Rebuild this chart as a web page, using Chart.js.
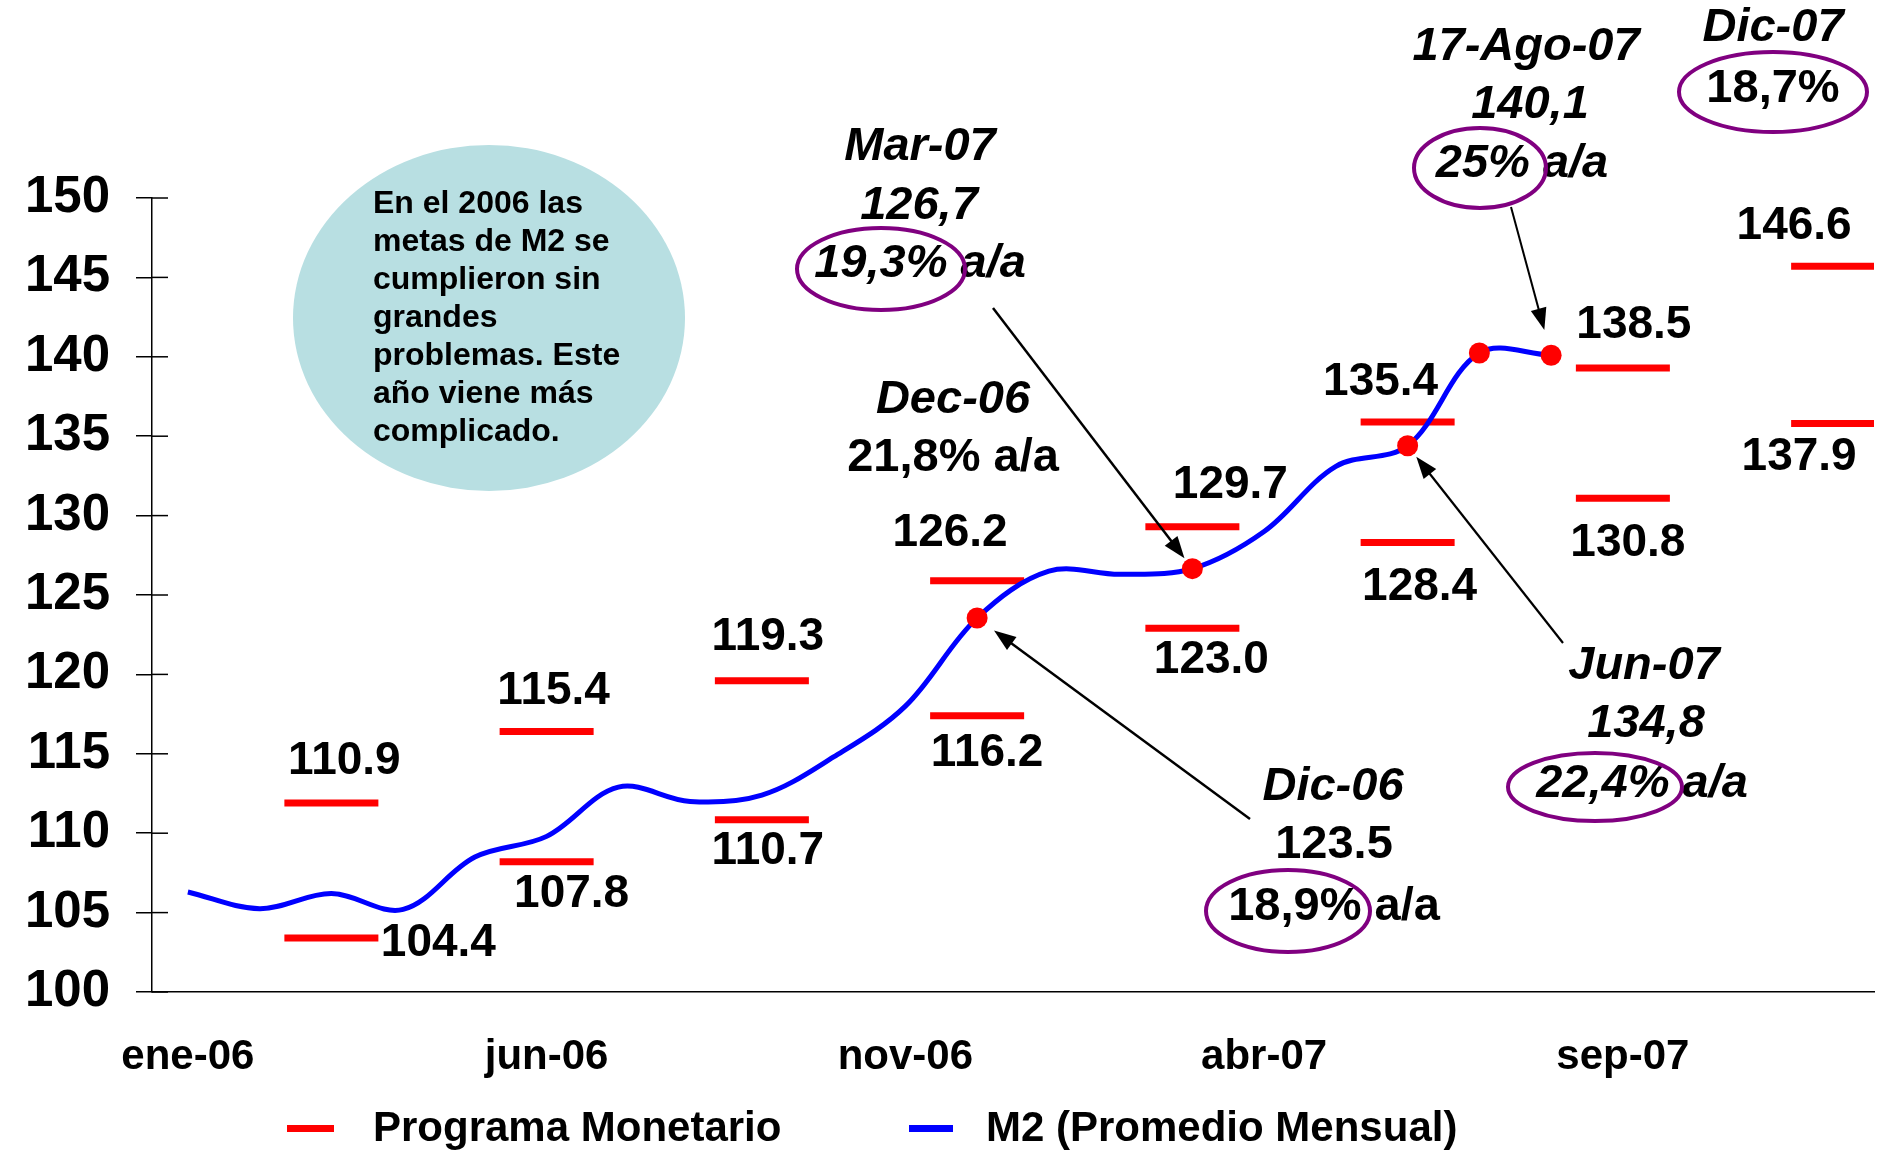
<!DOCTYPE html>
<html>
<head>
<meta charset="utf-8">
<script src="https://cdn.jsdelivr.net/npm/chart.js@4.4.1/dist/chart.umd.min.js"></script>
<style>
  html, body { margin: 0; padding: 0; background: #fff; }
  #wrap { position: relative; width: 1880px; height: 1150px; }
</style>
</head>
<body>
<div id="wrap"><canvas id="m2-chart" width="1880" height="1150"></canvas></div>
<script>
const FONT = '"Liberation Sans", Arial, Helvetica, sans-serif';

// meses del eje x
const months = [
  "ene-06", "feb-06", "mar-06", "abr-06", "may-06", "jun-06",
  "jul-06", "ago-06", "sep-06", "oct-06", "nov-06", "dic-06",
  "ene-07", "feb-07", "mar-07", "abr-07", "may-07", "jun-07",
  "jul-07", "ago-07", "sep-07", "oct-07", "nov-07", "dic-07",
];

// M2 promedio mensual
const m2 = [
  106.3, 105.25, 106.2, 105.2, 108.5, 109.8,
  112.9, 112.0, 112.4, 114.8, 118.0, 123.55,
  126.5, 126.3, 126.66, 129.0, 133.1, 134.4,
  140.24, 140.1, null, null, null, null,
];

// programa monetario: banda superior e inferior (trimestral)
const progAlto = [
  null, null, 111.9, null, null, 116.4, null, null, 119.6, null, null, 125.9,
  null, null, 129.3, null, null, 135.9, null, null, 139.3, null, null, 145.7,
];
const progBajo = [
  null, null, 103.4, null, null, 108.2, null, null, 110.85, null, null, 117.4,
  null, null, 122.9, null, null, 128.3, null, null, 131.1, null, null, 135.8,
];
const progAltoLabels = ["110.9", "115.4", "119.3", "126.2", "129.7", "135.4", "138.5", "146.6"];
const progBajoLabels = ["104.4", "107.8", "110.7", "116.2", "123.0", "128.4", "130.8", "137.9"];

// meses destacados con punto rojo
const highlighted = [11, 14, 17, 18, 19];

const yTicks = [100, 105, 110, 115, 120, 125, 130, 135, 140, 145, 150];

// desplazamientos de las etiquetas respecto a cada raya (px)
const altoOffsets = [[13, -42], [7, -40], [6, -43], [-27, -47], [38, -41], [-27, -40], [11, -43], [-44, -40]];
const bajoOffsets = [[107, 5], [25, 33], [6, 32], [10, 38], [19, 32], [12, 45], [5, 45], [-39, 34]];

// textos de las anotaciones
const notes = [
  { x: 920, y: 147, text: "Mar-07", italic: true },
  { x: 919, y: 206, text: "126,7", italic: true },
  { x: 920, y: 264, text: "19,3% a/a", italic: true },
  { x: 953, y: 400, text: "Dec-06", italic: true },
  { x: 953, y: 458, text: "21,8% a/a", italic: false },
  { x: 1333, y: 787, text: "Dic-06", italic: true },
  { x: 1334, y: 845, text: "123.5", italic: false },
  { x: 1334, y: 907, text: "18,9% a/a", italic: false },
  { x: 1644, y: 666, text: "Jun-07", italic: true },
  { x: 1646, y: 724, text: "134,8", italic: true },
  { x: 1642, y: 784, text: "22,4% a/a", italic: true },
  { x: 1526, y: 47, text: "17-Ago-07", italic: true },
  { x: 1530, y: 105, text: "140,1", italic: true },
  { x: 1522, y: 164, text: "25% a/a", italic: true },
  { x: 1773, y: 28, text: "Dic-07", italic: true },
  { x: 1773, y: 89, text: "18,7%", italic: false },
];

const circles = [
  { cx: 881, cy: 269, rx: 84, ry: 41 },
  { cx: 1288, cy: 911, rx: 82, ry: 41 },
  { cx: 1595, cy: 787, rx: 87, ry: 34 },
  { cx: 1480, cy: 168, rx: 66, ry: 40 },
  { cx: 1773, cy: 92, rx: 94, ry: 40 },
];

// flechas: origen en px, destino = punto rojo del mes
const arrows = [
  { from: [993, 308], idx: 14, gap: 13, width: 2.5 },
  { from: [1250, 819], idx: 11, gap: 21, width: 2.5 },
  { from: [1563, 643], idx: 17, gap: 14, width: 2.2 },
  { from: [1511, 207], idx: 19, gap: 26, width: 2 },
];

const bubbleLines = [
  "En el 2006 las",
  "metas de M2 se",
  "cumplieron sin",
  "grandes",
  "problemas. Este",
  "año viene más",
  "complicado.",
];

const legendItems = [
  { label: "Programa Monetario", color: "#ff0000", x0: 287, x1: 334, tx: 373 },
  { label: "M2 (Promedio Mensual)", color: "#0000ff", x0: 909, x1: 953, tx: 986 },
];

function drawArrow(ctx, x0, y0, x1, y1) {
  const a = Math.atan2(y1 - y0, x1 - x0);
  const c = Math.cos(a), s = Math.sin(a);
  const head = 22, half = 8;
  ctx.beginPath();
  ctx.moveTo(x0, y0);
  ctx.lineTo(x1 - c * head * 0.8, y1 - s * head * 0.8);
  ctx.stroke();
  ctx.beginPath();
  ctx.moveTo(x1, y1);
  ctx.lineTo(x1 - c * head + s * half, y1 - s * head - c * half);
  ctx.lineTo(x1 - c * head - s * half, y1 - s * head + c * half);
  ctx.closePath();
  ctx.fill();
}

const extrasPlugin = {
  id: "extras",
  beforeDatasetsDraw(chart) {
    const ctx = chart.ctx;
    // globo de texto
    ctx.save();
    ctx.fillStyle = "#b8dfe2";
    ctx.beginPath();
    ctx.ellipse(489, 318, 196, 173, 0, 0, Math.PI * 2);
    ctx.fill();
    ctx.fillStyle = "#000";
    ctx.font = "bold 32px " + FONT;
    ctx.textAlign = "left";
    ctx.textBaseline = "middle";
    bubbleLines.forEach((line, i) => {
      ctx.fillText(line, 373, 204 + i * 38);
    });
    ctx.restore();
  },
  afterDraw(chart) {
    const ctx = chart.ctx;
    const area = chart.chartArea;
    const yScale = chart.scales.y;
    ctx.save();

    // marcas del eje y hacia dentro
    ctx.strokeStyle = "#000";
    ctx.lineWidth = 1.5;
    yTicks.forEach((v) => {
      const py = yScale.getPixelForValue(v);
      ctx.beginPath();
      ctx.moveTo(area.left, py);
      ctx.lineTo(area.left + 16, py);
      ctx.stroke();
    });

    // etiquetas del programa monetario
    ctx.fillStyle = "#000";
    ctx.font = "bold 46px " + FONT;
    ctx.textAlign = "center";
    ctx.textBaseline = "middle";
    [[1, progAltoLabels, altoOffsets], [2, progBajoLabels, bajoOffsets]].forEach(([ds, labels, offs]) => {
      const meta = chart.getDatasetMeta(ds);
      let k = 0;
      chart.data.datasets[ds].data.forEach((v, i) => {
        if (v === null) return;
        const el = meta.data[i];
        ctx.fillText(labels[k], el.x + offs[k][0], el.y + offs[k][1]);
        k++;
      });
    });

    // anotaciones
    notes.forEach((n) => {
      ctx.font = (n.italic ? "italic " : "") + "bold 47px " + FONT;
      ctx.fillText(n.text, n.x, n.y);
    });

    ctx.strokeStyle = "#800080";
    ctx.lineWidth = 4;
    circles.forEach((c) => {
      ctx.beginPath();
      ctx.ellipse(c.cx, c.cy, c.rx, c.ry, 0, 0, Math.PI * 2);
      ctx.stroke();
    });

    // flechas
    const m2Meta = chart.getDatasetMeta(0);
    ctx.strokeStyle = "#000";
    ctx.fillStyle = "#000";
    arrows.forEach((a) => {
      const pt = m2Meta.data[a.idx];
      const dx = a.from[0] - pt.x, dy = a.from[1] - pt.y;
      const len = Math.hypot(dx, dy);
      ctx.lineWidth = a.width;
      drawArrow(ctx, a.from[0], a.from[1], pt.x + (dx / len) * a.gap, pt.y + (dy / len) * a.gap);
    });

    // leyenda
    ctx.font = "bold 42px " + FONT;
    ctx.textAlign = "left";
    legendItems.forEach((it) => {
      ctx.fillStyle = it.color;
      ctx.fillRect(it.x0, 1125, it.x1 - it.x0, 7);
      ctx.fillStyle = "#000";
      ctx.fillText(it.label, it.tx, 1129);
    });

    ctx.restore();
  },
};

const ctx = document.getElementById("m2-chart").getContext("2d");

new Chart(ctx, {
  type: "line",
  data: {
    labels: months,
    datasets: [
      {
        label: "M2 (Promedio Mensual)",
        data: m2,
        borderColor: "#0000ff",
        borderWidth: 5,
        tension: 0.35,
        fill: false,
        pointRadius: (c) => (highlighted.includes(c.dataIndex) ? 10.5 : 0),
        pointHoverRadius: (c) => (highlighted.includes(c.dataIndex) ? 10.5 : 0),
        pointBackgroundColor: "#ff0000",
        pointBorderWidth: 0,
      },
      {
        label: "Programa Monetario",
        data: progAlto,
        showLine: false,
        clip: 0,
        pointStyle: "line",
        pointRadius: 47,
        pointHoverRadius: 47,
        pointBorderWidth: 7,
        pointHoverBorderWidth: 7,
        pointBorderColor: "#ff0000",
        borderColor: "#ff0000",
      },
      {
        label: "Programa Monetario inferior",
        data: progBajo,
        showLine: false,
        clip: 0,
        pointStyle: "line",
        pointRadius: 47,
        pointHoverRadius: 47,
        pointBorderWidth: 7,
        pointHoverBorderWidth: 7,
        pointBorderColor: "#ff0000",
        borderColor: "#ff0000",
      },
    ],
  },
  options: {
    responsive: false,
    animation: false,
    events: [],
    layout: { autoPadding: false, padding: { top: 198, right: 6, left: 0, bottom: 0 } },
    plugins: {
      legend: { display: false },
      tooltip: { enabled: false },
    },
    scales: {
      x: {
        type: "category",
        offset: true,
        grid: { display: false, drawTicks: false },
        border: { display: true, color: "#000", width: 1.5 },
        ticks: {
          autoSkip: false,
          maxRotation: 0,
          minRotation: 0,
          padding: 40,
          color: "#000",
          font: { family: FONT, size: 42, weight: "bold" },
          callback: (v, i) => (i % 5 === 0 ? months[i] : ""),
        },
        afterFit: (s) => {
          s.height = 158;
          s.paddingLeft = 0;
          s.paddingRight = 0;
        },
      },
      y: {
        min: 100,
        max: 150,
        grid: {
          drawOnChartArea: false,
          drawTicks: true,
          tickLength: 16,
          color: "#000",
          lineWidth: 1.5,
        },
        border: { display: true, color: "#000", width: 1.5 },
        ticks: {
          stepSize: 5,
          padding: 26,
          color: "#000",
          font: { family: FONT, size: 51, weight: "bold" },
        },
        afterFit: (s) => {
          s.width = 152;
          s.paddingTop = 0;
          s.paddingBottom = 0;
        },
      },
    },
  },
  plugins: [extrasPlugin],
});
</script>
</body>
</html>
